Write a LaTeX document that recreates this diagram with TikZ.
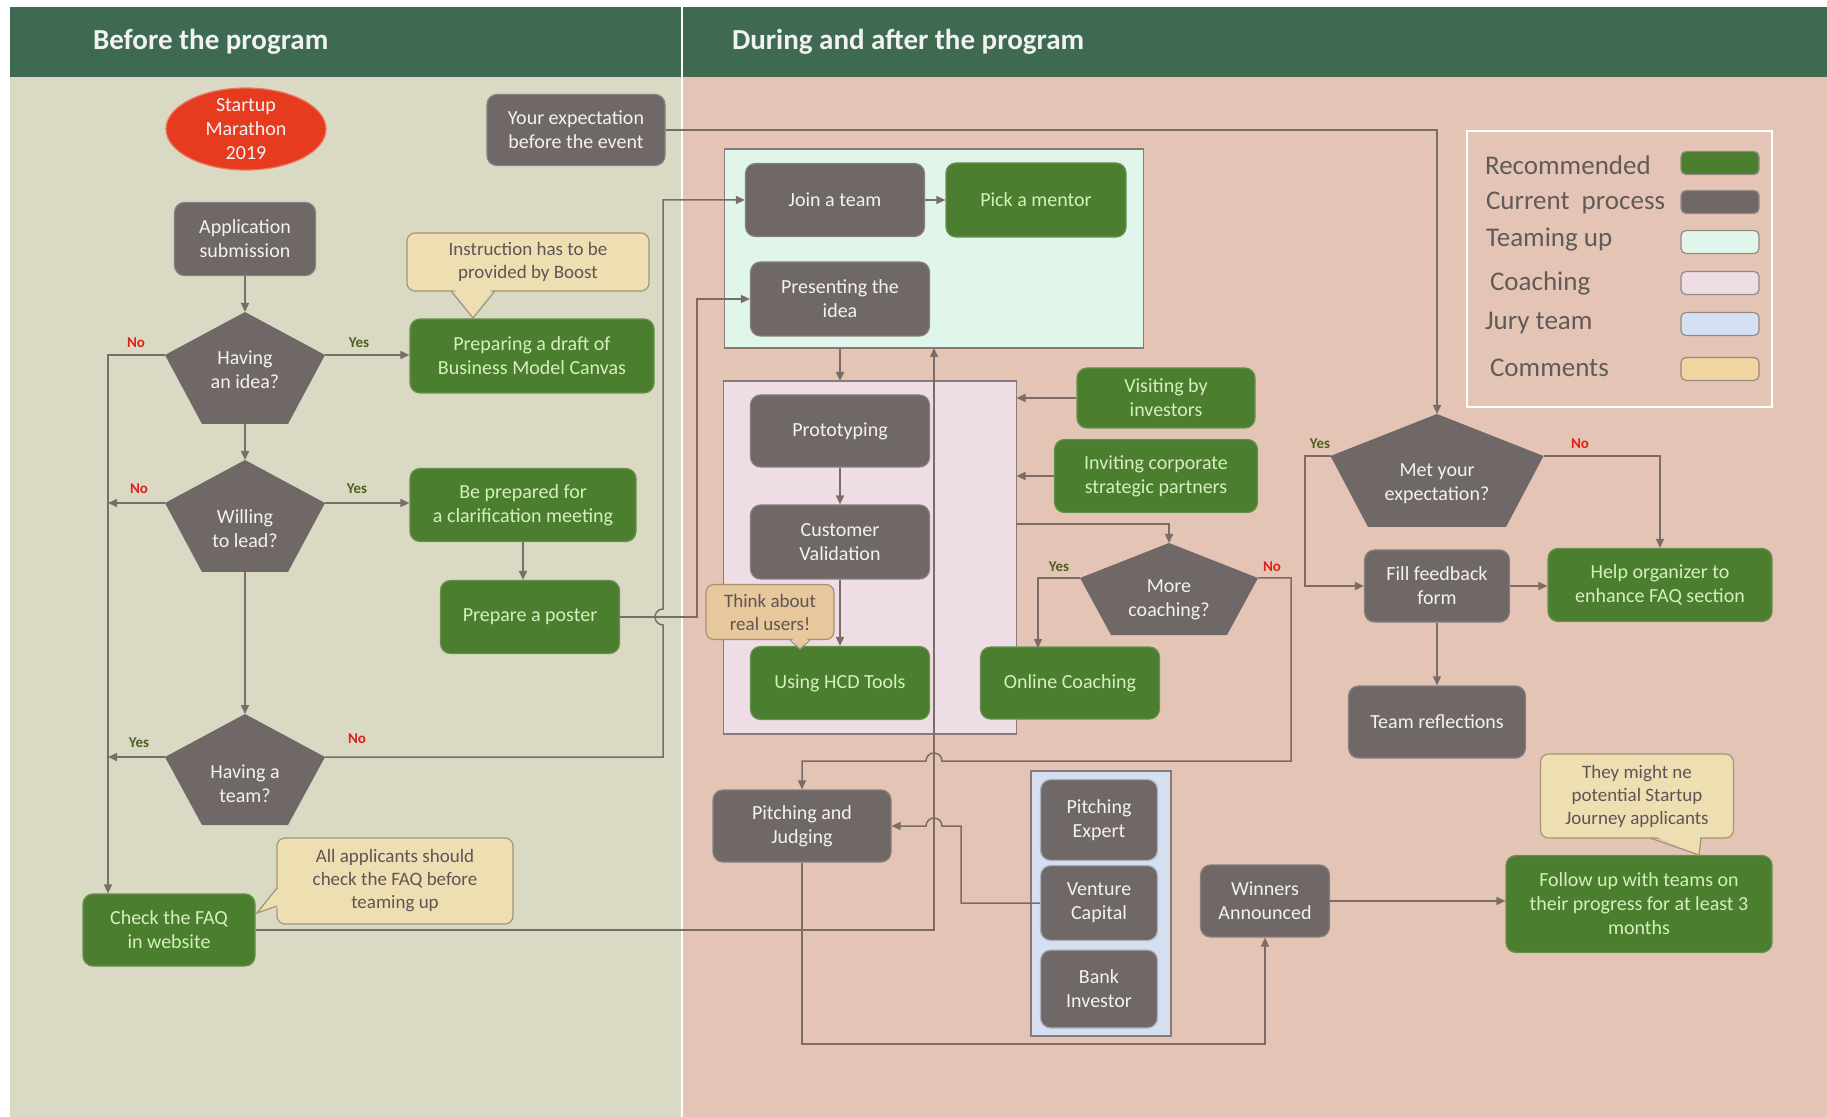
\documentclass[tikz,border=0pt]{standalone}
\usepackage{fontspec}
\setmainfont{Carlito}
\usetikzlibrary{arrows.meta,shapes.geometric}
\definecolor{hdr}{HTML}{3E6A52}
\definecolor{lpanel}{HTML}{DAD9C4}
\definecolor{rpanel}{HTML}{E4C5B5}
\definecolor{gboxc}{HTML}{706867}
\definecolor{rboxc}{HTML}{4B7E2E}
\definecolor{rtext}{HTML}{D6EFBE}
\definecolor{lnc}{HTML}{7B6C68}
\definecolor{cmt}{HTML}{EEDFB3}
\definecolor{cmtb}{HTML}{E6C89C}
\definecolor{cmtline}{HTML}{A39478}
\definecolor{cmttext}{HTML}{5E5555}
\definecolor{teamfill}{HTML}{E1F6EA}
\definecolor{coachfill}{HTML}{EEDDE5}
\definecolor{juryfill}{HTML}{D4E0F2}
\definecolor{redfill}{HTML}{E63B1E}
\definecolor{yesc}{HTML}{4F5F1E}
\definecolor{noc}{HTML}{E0201A}
\definecolor{legtext}{HTML}{625A58}
\newcommand\mypent[7]{%
  \coordinate (#1-t) at (#2,#3);
  \coordinate (#1-l) at ({#2-#6},#4);
  \coordinate (#1-r) at ({#2+#6},#4);
  \coordinate (#1-b) at (#2,#5);
  \fill[gboxc] (#1-t) -- (#1-r) -- ({#2+#7},#5) -- ({#2-#7},#5) -- (#1-l) -- cycle;
}
\tikzset{
  boxbase/.style={rounded corners=5pt, align=center, inner sep=1pt, line width=0.6pt,
    font=\fontsize{10}{12}\selectfont},
  gproc/.style={boxbase, fill=gboxc, draw=gboxc!85!white, text=white!95!black},
  rproc/.style={boxbase, fill=rboxc, draw=rboxc!85!white, text=rtext},
  cmtbox/.style={rounded corners=4pt, fill=cmt, draw=cmtline, line width=0.6pt, align=center,
    text=cmttext, inner sep=1pt, font=\fontsize{9.5}{11.5}\selectfont},
  conn/.style={draw=lnc, line width=0.75pt},
  arr/.style={conn, -{Triangle[length=4.5pt,width=4pt]}},
  yeslab/.style={font=\bfseries\fontsize{7.5}{9}\selectfont, text=yesc},
  nolab/.style={font=\bfseries\fontsize{7.5}{9}\selectfont, text=noc},
  pentxt/.style={align=center, text=white!95!black, font=\fontsize{10}{12}\selectfont},
  region/.style={draw=lnc!90, line width=0.7pt, inner sep=0pt, outer sep=0pt},
  legtxt/.style={anchor=west, text=legtext, font=\fontsize{13.5}{15}\selectfont},
  swatch/.style={rounded corners=2.5pt, draw=lnc!80, line width=0.6pt, minimum width=39pt, minimum height=11.5pt, inner sep=0pt},
  hdrtxt/.style={anchor=west, text=white!95!black, font=\bfseries\fontsize{14.5}{16}\selectfont}
}
\begin{document}
\begin{tikzpicture}[x=0.5pt,y=-0.5pt]
\useasboundingbox (0,0) rectangle (1827,1117);
% backgrounds
\fill[white] (0,0) rectangle (1827,1117);
\fill[lpanel] (10,77) rectangle (682,1117);
\fill[rpanel] (682,77) rectangle (1827,1117);
\fill[hdr] (10,7) rectangle (1827,77);
\draw[white, line width=1pt] (682,7) -- (682,1117);
\node[hdrtxt] (h1) at (86,42) {Before the program};
\node[hdrtxt] (h2) at (725,42) {During and after the program};

% regions
\node[region, fill=teamfill, minimum width=209.5pt, minimum height=99.5pt] (teaming) at (934,248.5) {};
\node[region, fill=coachfill, minimum width=146.5pt, minimum height=176.5pt] (coaching) at (870,557.5) {};
\node[region, fill=juryfill, minimum width=70pt, minimum height=132.5pt] (jury) at (1101,903.5) {};

% legend
\node[draw=white, line width=1pt, minimum width=152.5pt, minimum height=138pt, inner sep=0pt] (legend) at (1619.5,269) {};
\node[legtxt] (l1) at (1478,165) {Recommended};
\node[legtxt] (l2) at (1479,203) {Current\ \ process};
\node[legtxt] (l3) at (1479,240) {Teaming up};
\node[legtxt] (l4) at (1483,283) {Coaching};
\node[legtxt] (l5) at (1478,323) {Jury team};
\node[legtxt] (l6) at (1483,368) {Comments};
\node[swatch, fill=rboxc] (s1) at (1720,163) {};
\node[swatch, fill=gboxc] (s2) at (1720,202) {};
\node[swatch, fill=teamfill] (s3) at (1720,242) {};
\node[swatch, fill=coachfill] (s4) at (1720,283) {};
\node[swatch, fill=juryfill] (s5) at (1720,324) {};
\node[swatch, fill=cmt!90!orange] (s6) at (1720,369) {};

% start ellipse
\node[ellipse, fill=redfill, draw=redfill!70!white, line width=0.6pt, minimum width=80pt, minimum height=41pt, inner sep=0pt] (start) at (246,129) {};
\node[align=center, text=white!95!black, font=\fontsize{10}{12.2}\selectfont] (starttxt) at (246,129) {Startup\\Marathon\\2019};

% left column boxes
\node[gproc, minimum width=89pt, minimum height=35.5pt] (exp) at (576,130) {Your expectation\\before the event};
\node[gproc, minimum width=70.5pt, minimum height=36.5pt] (app) at (245,239) {Application\\submission};
\node[rproc, minimum width=122pt, minimum height=37pt] (bmc) at (532,356) {Preparing a draft of\\Business Model Canvas};
\node[rproc, minimum width=113pt, minimum height=36.5pt] (clar) at (523,505) {Be prepared for\\a clarification meeting};
\node[rproc, minimum width=89.5pt, minimum height=36.5pt] (poster) at (530,617) {Prepare a poster};
\node[rproc, minimum width=86pt, minimum height=36pt] (faq) at (169,930) {Check the FAQ\\in website};

% pentagons
\mypent{idea}{245}{312}{355}{424}{80}{43}
\mypent{will}{245}{460}{503}{572}{80}{43}
\mypent{hteam}{245}{714}{757}{825}{80}{43}
\mypent{more}{1169}{543}{578}{635}{89}{58}
\mypent{met}{1437}{414}{456}{527}{106.5}{69}
\node[pentxt] (ideatxt) at (245,370) {Having\\an idea?};
\node[pentxt] (willtxt) at (245,529) {Willing\\to lead?};
\node[pentxt] (hteamtxt) at (245,784) {Having a\\team?};
\node[pentxt] (moretxt) at (1169,600) {More\\coaching?};
\node[pentxt] (mettxt) at (1437,484) {Met your\\expectation?};

% right side boxes
\node[gproc, minimum width=89.5pt, minimum height=36.5pt] (join) at (835,200) {Join a team};
\node[rproc, minimum width=90pt, minimum height=37pt] (mentor) at (1036,200) {Pick a mentor};
\node[gproc, minimum width=89.5pt, minimum height=37pt] (pres) at (840,299) {Presenting the\\idea};
\node[gproc, minimum width=89.5pt, minimum height=36pt] (proto) at (840,431) {Prototyping};
\node[gproc, minimum width=89.5pt, minimum height=37pt] (cust) at (840,542) {Customer\\Validation};
\node[rproc, minimum width=89.5pt, minimum height=36.5pt] (hcd) at (840,683) {Using HCD Tools};
\node[rproc, minimum width=89pt, minimum height=30pt] (visit) at (1166,398) {Visiting by\\investors};
\node[rproc, minimum width=101.5pt, minimum height=36.5pt] (invite) at (1156,476) {Inviting corporate\\strategic partners};
\node[rproc, minimum width=89.5pt, minimum height=36pt] (online) at (1070,683) {Online Coaching};
\node[gproc, minimum width=89pt, minimum height=36pt] (pj) at (802,826) {Pitching and\\Judging};
\node[gproc, draw=juryfill!60!lnc, minimum width=58.5pt, minimum height=40.5pt] (pe) at (1099,820) {Pitching\\Expert};
\node[gproc, draw=juryfill!60!lnc, minimum width=58.5pt, minimum height=37.5pt] (vc) at (1099,903) {Venture\\Capital};
\node[gproc, draw=juryfill!60!lnc, minimum width=58.5pt, minimum height=39pt] (bi) at (1099,989) {Bank\\Investor};
\node[gproc, minimum width=64.5pt, minimum height=36pt] (win) at (1265,901) {Winners\\Announced};
\node[gproc, minimum width=72.5pt, minimum height=36pt] (fill) at (1437,586) {Fill feedback\\form};
\node[rproc, minimum width=112pt, minimum height=36.5pt] (help) at (1660,585) {Help organizer to\\enhance FAQ section};
\node[gproc, minimum width=88.5pt, minimum height=36pt] (refl) at (1437,722) {Team reflections};
\node[rproc, minimum width=133pt, minimum height=48.5pt] (follow) at (1639,904) {Follow up with teams on\\their progress for at least 3\\months};

% callouts
\node[cmtbox, minimum width=121pt, minimum height=29pt] (c1) at (528,262) {Instruction has to be\\provided by Boost};
\fill[cmt] (453,288) -- (473,318) -- (493,288) -- cycle;
\draw[cmtline, line width=0.6pt] (451,291) -- (473,318) -- (495,291);
\node[cmtbox, minimum width=118pt, minimum height=43pt] (c2) at (395,881) {All applicants should\\check the FAQ before\\teaming up};
\fill[cmt] (280,886) -- (257,913) -- (280,907) -- cycle;
\draw[cmtline, line width=0.6pt] (277,888) -- (257,913) -- (277,906);
\node[cmtbox, fill=cmtb, minimum width=64pt, minimum height=27.5pt] (c3) at (770,612) {Think about\\real users!};
\fill[cmtb] (791,637) -- (800,649) -- (809,637) -- cycle;
\draw[cmtline, line width=0.6pt] (790,640) -- (800,649) -- (810,640);
\node[cmtbox, minimum width=96.5pt, minimum height=42pt] (c4) at (1637,796) {They might ne\\potential Startup\\Journey applicants};
\fill[cmt] (1652,835) -- (1699,855) -- (1700,835) -- cycle;
\draw[cmtline, line width=0.6pt] (1650,838) -- (1699,855) -- (1701,838);

% helper coordinates
\coordinate (busTop) at (108,355);
\coordinate (tnx) at (663,757);
\coordinate (hopA) at (663,617);
\coordinate (pbus) at (697,617);
\coordinate (coachout) at (1016,524);
\coordinate (onlin) at (1038,648);
\coordinate (mn1) at (1291,761);
\coordinate (hopB) at (934,761);
\coordinate (vcx) at (961,903);
\coordinate (hopC) at (934,826);
\coordinate (pjb) at (802,1044);
\coordinate (my) at (1305,456);

% connectors: before the program
\draw[arr] (app.south) -- (idea-t);
\draw[arr] (idea-b) -- (will-t);
\draw[arr] (will-b) -- (hteam-t);
\draw[arr] (idea-r) -- (idea-r -| bmc.west);
\draw[arr] (will-r) -- (will-r -| clar.west);
\draw[arr] (clar.south) -- (clar.south |- poster.north);
\draw[arr] (idea-l) -- (busTop) -- (busTop |- faq.north);
\draw[arr] (will-l) -- (busTop |- will-l);
\draw[arr] (hteam-l) -- (busTop |- hteam-l);
\draw[arr] (hteam-r) -- (tnx) -- ([yshift=-4pt]hopA) arc[start angle=-90, end angle=-270, radius=4pt] -- (hopA |- join.west) -- (join.west);
\draw[arr] (poster.east) -- (pbus) |- (pres.west);
\draw[arr] (exp.east) -| (met-t);
\draw[arr] (faq.east) -| (teaming.south);

% connectors: during and after
\draw[arr] (join.east) -- (join.east -| mentor.west);
\draw[arr] (proto |- teaming.south) -- (proto |- coaching.north);
\draw[arr] (proto) -- (cust);
\draw[arr] (cust) -- (hcd);
\draw[arr] (visit.west) -- (visit.west -| coaching.east);
\draw[arr] (invite.west) -- (invite.west -| coaching.east);
\draw[arr] (coachout) -| (more-t);
\draw[arr] (more-l) -| (onlin);
\draw[arr] (more-r) -| (mn1) -- ([xshift=4pt]hopB) arc[start angle=0, end angle=180, radius=4pt] -- (pj.north |- hopB) -- (pj.north);
\draw[arr] (vc.west) -- (vcx) |- ([xshift=4pt]hopC) arc[start angle=0, end angle=180, radius=4pt] -- (pj.east);
\draw[arr] (pj.south) -- (pjb) -| (win.south);
\draw[arr] (win.east) -- (win.east -| follow.west);
\draw[arr] (met-l) -- (my) |- (fill.west);
\draw[arr] (met-r) -| (help.north);
\draw[arr] (fill.east) -- (fill.east -| help.west);
\draw[arr] (fill) -- (refl);

% yes / no labels
\node[yeslab] (y1) at (359,343) {Yes};
\node[nolab] (n1) at (136,343) {No};
\node[yeslab] (y2) at (357,489) {Yes};
\node[nolab] (n2) at (139,489) {No};
\node[yeslab] (y3) at (139,743) {Yes};
\node[nolab] (n3) at (357,739) {No};
\node[yeslab] (y4) at (1059,567) {Yes};
\node[nolab] (n4) at (1272,567) {No};
\node[yeslab] (y5) at (1320,444) {Yes};
\node[nolab] (n5) at (1580,444) {No};
\end{tikzpicture}
\end{document}
